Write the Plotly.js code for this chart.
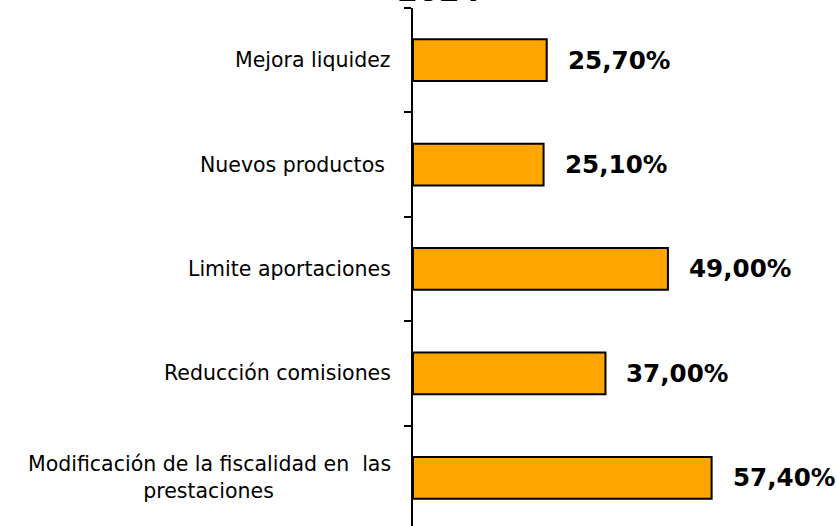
<!DOCTYPE html>
<html>
<head>
<meta charset="utf-8">
<script src="https://cdn.plot.ly/plotly-3.0.1.min.js"></script>
<style>html,body{margin:0;padding:0;background:#fff;}#chart{width:837px;height:526px;}</style>
</head>
<body>
<div id="chart"></div>
<script>
// Categories listed bottom-to-top
var categories = [
  "Modificación de la fiscalidad en  las",
  "Reducción comisiones",
  "Limite aportaciones",
  "Nuevos productos",
  "Mejora liquidez"
];
// Display labels (second line of the long label centred under the first)
var categoryLabels = [
  "Modificación de la fiscalidad en\u00a0\u00a0las<br>prestaciones" + "\u00a0".repeat(18),
  "Reducción comisiones",
  "Limite aportaciones",
  "Nuevos productos\u00a0",
  "Mejora liquidez"
];
var values = [57.4, 37.0, 49.0, 25.1, 25.7];
var titleText = "2024";

function fmt(v) { return v.toFixed(2).replace('.', ',') + '%'; }

var trace = {
  type: 'bar',
  orientation: 'h',
  y: categories,
  x: values,
  marker: { color: '#FFA500', line: { color: '#000000', width: 2 } },
  hoverinfo: 'none'
};

var annotations = values.map(function (v, i) {
  return {
    x: v, y: categories[i], xref: 'x', yref: 'y',
    text: '<b>' + fmt(v) + '</b>',
    showarrow: false, xanchor: 'left', yanchor: 'middle', xshift: 19,
    font: { family: 'DejaVu Sans', size: 24.6, color: '#000000' }
  };
}).concat(categoryLabels.map(function (lab, i) {
  return {
    x: 0, y: categories[i], xref: 'paper', yref: 'y',
    text: lab, align: 'right',
    showarrow: false, xanchor: 'right', yanchor: 'middle', xshift: -20,
    font: { family: 'DejaVu Sans', size: 20.5, color: '#000000' }
  };
})).concat([{
  x: 0.524, y: 1, xref: 'paper', yref: 'paper',
  text: '<b>' + titleText + '</b>',
  showarrow: false, xanchor: 'center', yanchor: 'bottom', yshift: -2,
  font: { family: 'DejaVu Sans', size: 30, color: '#000000' }
}]);
// title x is given relative to the page width: convert to plot-area fraction
annotations[annotations.length - 1].x = (0.524 * 837 - 413) / (837 - 413);

var layout = {
  width: 837, height: 526,
  margin: { l: 413, r: 0, t: 8, b: 0 },
  paper_bgcolor: '#ffffff', plot_bgcolor: '#ffffff',
  showlegend: false,
  bargap: 0.6,
  xaxis: {
    range: [0, 81.5], visible: false, showgrid: false, zeroline: false, fixedrange: true
  },
  yaxis: {
    type: 'category',
    range: [-0.462, 4.5],
    showline: true, linecolor: '#000000', linewidth: 2,
    ticks: 'outside', ticklen: 7, tickwidth: 2, tickcolor: '#000000',
    tickson: 'boundaries',
    showticklabels: false,
    showgrid: false, zeroline: false,
    fixedrange: true
  },
  annotations: annotations
};

Plotly.newPlot('chart', [trace], layout, { displayModeBar: false, staticPlot: true });
</script>
</body>
</html>
